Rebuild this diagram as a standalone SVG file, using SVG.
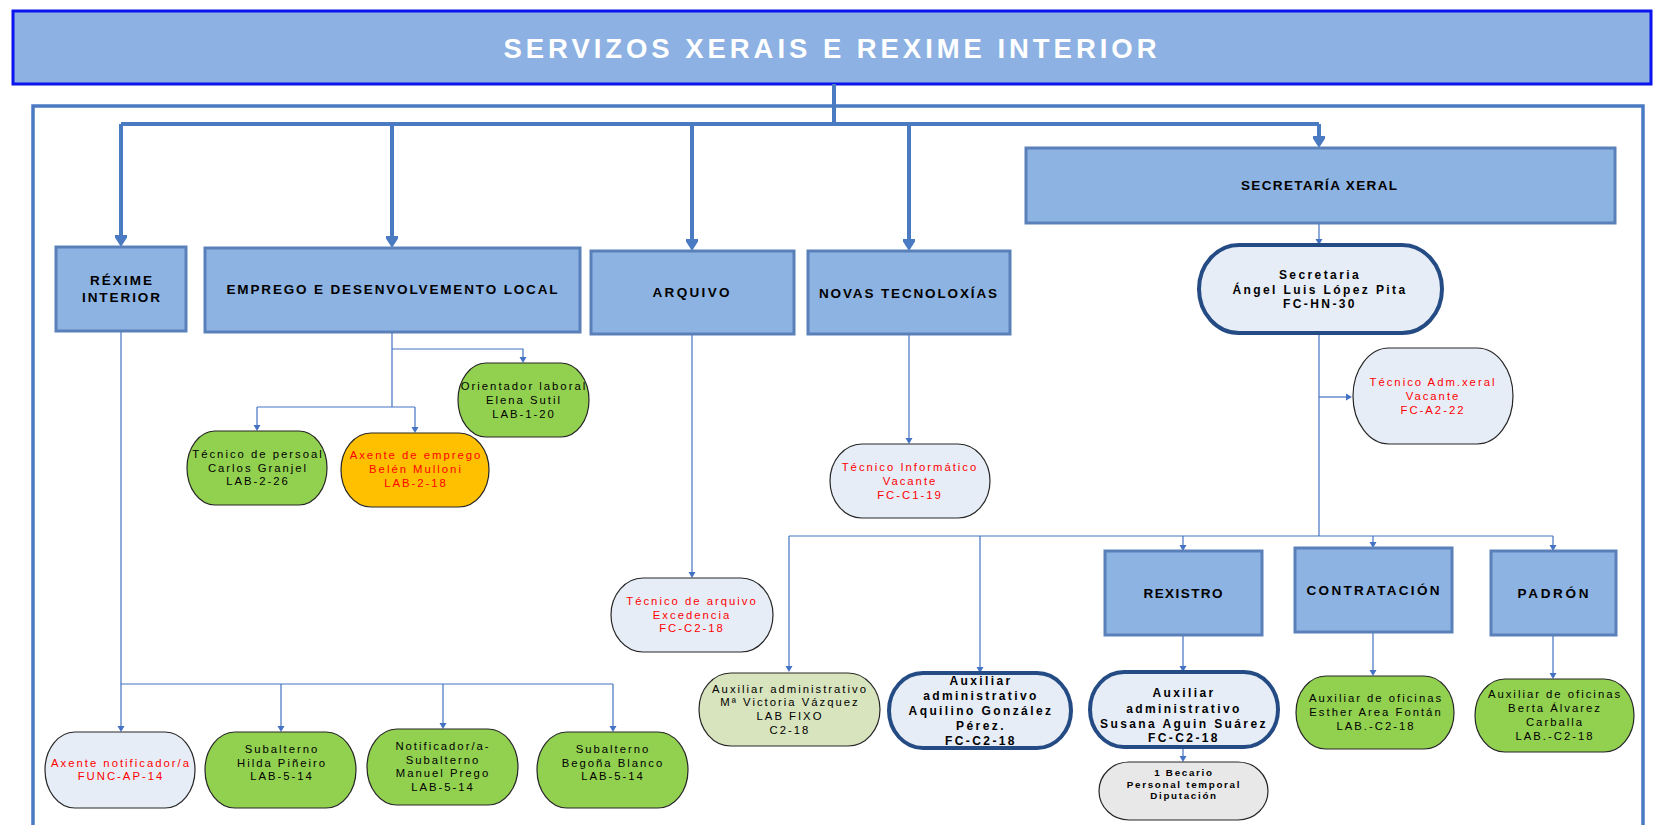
<svg xmlns="http://www.w3.org/2000/svg" width="1653" height="825" viewBox="0 0 1653 825">
<defs>
<marker id="big" markerUnits="userSpaceOnUse" markerWidth="15" markerHeight="12" refX="0" refY="6" orient="auto" viewBox="0 0 15 12"><path d="M0,-1.5 L12,6 L0,13.5 Z" fill="#4A7AC2"/></marker>
<marker id="sm" markerUnits="userSpaceOnUse" markerWidth="7" markerHeight="8" refX="0" refY="4" orient="auto" viewBox="0 0 7 8"><path d="M0,0.5 L6,4 L0,7.5 Z" fill="#4472C4"/></marker>
<style>
.box{fill:#8DB3E2;stroke:#5A80BA;stroke-width:3}
.thick{fill:none;stroke:#4A7AC2;stroke-width:4}
.thin{fill:none;stroke:#4472C4;stroke-width:1.2}
.green{fill:#92D050;stroke:#262626;stroke-width:1.2}
.light{fill:#E6EDF7;stroke:#262626;stroke-width:1.2}
.olive{fill:#D7E4BD;stroke:#262626;stroke-width:1.2}
.orange{fill:#FFC000;stroke:#262626;stroke-width:1.2}
.gray{fill:#E8E8E8;stroke:#262626;stroke-width:1.2}
.strong{fill:#E6EDF7;stroke:#244B84;stroke-width:4}
.bl{font-family:"Liberation Sans",Arial,sans-serif;font-weight:bold;font-size:13.5px;fill:#000;text-anchor:middle}
.t{font-family:"Liberation Sans",Arial,sans-serif;font-size:11.3px;letter-spacing:2px;fill:#000;text-anchor:middle}
.r{fill:#FF0000}
.tb{font-family:"Liberation Sans",Arial,sans-serif;font-weight:bold;font-size:12px;letter-spacing:2.4px;fill:#000;text-anchor:middle}
.ts{font-family:"Liberation Sans",Arial,sans-serif;font-weight:bold;font-size:9.8px;letter-spacing:1.7px;fill:#000;text-anchor:middle}
</style>
</defs>
<rect width="1653" height="825" fill="#FFFFFF"/>
<g id="title">
<rect x="13" y="11" width="1638" height="73" fill="#8DB1E2" stroke="#0A14EE" stroke-width="3"/>
<text x="830" y="58" font-family="'Liberation Sans',Arial,sans-serif" font-weight="bold" font-size="27.5" fill="#FFFFFF" text-anchor="middle" textLength="653" lengthAdjust="spacing">SERVIZOS XERAIS E REXIME INTERIOR</text>
</g>
<g id="frame">
<path d="M33,825 V106 H1643 V825" fill="none" stroke="#4A7AC2" stroke-width="3.5"/>
</g>
<g id="connectors">
<path class="thick" d="M834,84 V124"/>
<path class="thick" d="M121,124 H1319"/>
<path class="thick" d="M121,124 V235" marker-end="url(#big)"/>
<path class="thick" d="M392,124 V236" marker-end="url(#big)"/>
<path class="thick" d="M692,124 V239" marker-end="url(#big)"/>
<path class="thick" d="M909,124 V239" marker-end="url(#big)"/>
<path class="thick" d="M1319,124 V136" marker-end="url(#big)"/>
<path class="thin" d="M1319,223 V239" marker-end="url(#sm)"/>
<path class="thin" d="M1319,333 V536"/>
<path class="thin" d="M1319,397 H1346" marker-end="url(#sm)"/>
<path class="thin" d="M789,536 H1553"/>
<path class="thin" d="M789,536 V666" marker-end="url(#sm)"/>
<path class="thin" d="M980,536 V667" marker-end="url(#sm)"/>
<path class="thin" d="M1183,536 V545" marker-end="url(#sm)"/>
<path class="thin" d="M1373,536 V542" marker-end="url(#sm)"/>
<path class="thin" d="M1553,536 V545" marker-end="url(#sm)"/>
<path class="thin" d="M1183,635 V666" marker-end="url(#sm)"/>
<path class="thin" d="M1373,632 V670" marker-end="url(#sm)"/>
<path class="thin" d="M1553,635 V673" marker-end="url(#sm)"/>
<path class="thin" d="M1183,747 V756" marker-end="url(#sm)"/>
<path class="thin" d="M909,334 V438" marker-end="url(#sm)"/>
<path class="thin" d="M692,334 V572" marker-end="url(#sm)"/>
<path class="thin" d="M392,332 V407"/>
<path class="thin" d="M392,349 H523 V357" marker-end="url(#sm)"/>
<path class="thin" d="M257,407 H415"/>
<path class="thin" d="M257,407 V425" marker-end="url(#sm)"/>
<path class="thin" d="M415,407 V427" marker-end="url(#sm)"/>
<path class="thin" d="M121,331 V684 H613"/>
<path class="thin" d="M121,684 V726" marker-end="url(#sm)"/>
<path class="thin" d="M281,684 V726" marker-end="url(#sm)"/>
<path class="thin" d="M443,684 V723" marker-end="url(#sm)"/>
<path class="thin" d="M613,684 V726" marker-end="url(#sm)"/>
</g>
<g id="n-reximeint"><rect class="box" x="56" y="247" width="130" height="84"/><text class="bl" x="121" y="285" textLength="62" lengthAdjust="spacing">RÉXIME</text><text class="bl" x="121" y="302" textLength="78" lengthAdjust="spacing">INTERIOR</text></g>
<g id="n-emprego"><rect class="box" x="205" y="248" width="375" height="84"/><text class="bl" x="392" y="294" textLength="331" lengthAdjust="spacing">EMPREGO E DESENVOLVEMENTO LOCAL</text></g>
<g id="n-arquivo"><rect class="box" x="591" y="251" width="203" height="83"/><text class="bl" x="691" y="297" textLength="77" lengthAdjust="spacing">ARQUIVO</text></g>
<g id="n-novas"><rect class="box" x="808" y="251" width="202" height="83"/><text class="bl" x="908" y="298" textLength="178" lengthAdjust="spacing">NOVAS TECNOLOXÍAS</text></g>
<g id="n-secxeral"><rect class="box" x="1026" y="148" width="589" height="75"/><text class="bl" x="1319" y="190" textLength="156" lengthAdjust="spacing">SECRETARÍA XERAL</text></g>
<g id="n-secretaria"><rect class="strong" x="1199" y="245" width="243" height="88" rx="40" ry="44"/><text class="tb" x="1320" y="279">Secretaria</text><text class="tb" x="1320" y="294">Ángel Luis López Pita</text><text class="tb" x="1320" y="308">FC-HN-30</text></g>
<g id="n-tadm"><rect class="light" x="1353" y="348" width="160" height="96" rx="36" ry="48"/><text class="t r" x="1433" y="386">Técnico Adm.xeral</text><text class="t r" x="1433" y="400">Vacante</text><text class="t r" x="1433" y="414">FC-A2-22</text></g>
<g id="n-tinf"><rect class="light" x="830" y="444" width="160" height="74" rx="32" ry="37"/><text class="t r" x="910" y="471">Técnico Informático</text><text class="t r" x="910" y="485">Vacante</text><text class="t r" x="910" y="499">FC-C1-19</text></g>
<g id="n-tarq"><rect class="light" x="611" y="578" width="162" height="74" rx="32" ry="37"/><text class="t r" x="692" y="605">Técnico de arquivo</text><text class="t r" x="692" y="619">Excedencia</text><text class="t r" x="692" y="632">FC-C2-18</text></g>
<g id="n-orient"><rect class="green" x="458" y="363" width="131" height="74" rx="28" ry="37"/><text class="t" x="524" y="390">Orientador laboral</text><text class="t" x="524" y="404">Elena Sutil</text><text class="t" x="524" y="418">LAB-1-20</text></g>
<g id="n-tpers"><rect class="green" x="187" y="431" width="140" height="74" rx="28" ry="37"/><text class="t" x="258" y="458">Técnico de persoal</text><text class="t" x="258" y="472">Carlos Granjel</text><text class="t" x="258" y="485">LAB-2-26</text></g>
<g id="n-axemp"><rect class="orange" x="341" y="433" width="148" height="74" rx="30" ry="37"/><text class="t r" x="416" y="459">Axente de emprego</text><text class="t r" x="416" y="473">Belén Mulloni</text><text class="t r" x="416" y="487">LAB-2-18</text></g>
<g id="n-axnot"><rect class="light" x="45" y="732" width="150" height="76" rx="30" ry="38"/><text class="t r" x="121" y="767">Axente notificador/a</text><text class="t r" x="121" y="780">FUNC-AP-14</text></g>
<g id="n-hilda"><rect class="green" x="205" y="732" width="151" height="76" rx="30" ry="38"/><text class="t" x="282" y="753">Subalterno</text><text class="t" x="282" y="767">Hilda Piñeiro</text><text class="t" x="282" y="780">LAB-5-14</text></g>
<g id="n-manuel"><rect class="green" x="367" y="729" width="151" height="76" rx="30" ry="38"/><text class="t" x="443" y="750">Notificador/a-</text><text class="t" x="443" y="764">Subalterno</text><text class="t" x="443" y="777">Manuel Prego</text><text class="t" x="443" y="791">LAB-5-14</text></g>
<g id="n-begona"><rect class="green" x="537" y="732" width="151" height="76" rx="30" ry="38"/><text class="t" x="613" y="753">Subalterno</text><text class="t" x="613" y="767">Begoña Blanco</text><text class="t" x="613" y="780">LAB-5-14</text></g>
<g id="n-victoria"><rect class="olive" x="699" y="673" width="181" height="73" rx="32" ry="36.5"/><text class="t" x="790" y="693">Auxiliar administrativo</text><text class="t" x="790" y="706">Mª Victoria Vázquez</text><text class="t" x="790" y="720">LAB FIXO</text><text class="t" x="790" y="734">C2-18</text></g>
<g id="n-aquilino"><rect class="strong" x="889" y="673" width="182" height="75" rx="34" ry="37.5"/><text class="tb" x="981" y="685">Auxiliar</text><text class="tb" x="981" y="700">administrativo</text><text class="tb" x="981" y="715">Aquilino González</text><text class="tb" x="981" y="730">Pérez.</text><text class="tb" x="981" y="745">FC-C2-18</text></g>
<g id="n-susana"><rect class="strong" x="1090" y="672" width="188" height="75" rx="34" ry="37.5"/><text class="tb" x="1184" y="697">Auxiliar</text><text class="tb" x="1184" y="713">administrativo</text><text class="tb" x="1184" y="728">Susana Aguin Suárez</text><text class="tb" x="1184" y="742">FC-C2-18</text></g>
<g id="n-becario"><rect class="gray" x="1099" y="762" width="169" height="58" rx="30" ry="29"/><text class="ts" x="1184" y="776">1 Becario</text><text class="ts" x="1184" y="788">Personal temporal</text><text class="ts" x="1184" y="799">Diputación</text></g>
<g id="n-rexistro"><rect class="box" x="1105" y="551" width="157" height="84"/><text class="bl" x="1183" y="598" textLength="79" lengthAdjust="spacing">REXISTRO</text></g>
<g id="n-contrat"><rect class="box" x="1295" y="548" width="157" height="84"/><text class="bl" x="1373" y="595" textLength="133" lengthAdjust="spacing">CONTRATACIÓN</text></g>
<g id="n-padron"><rect class="box" x="1491" y="551" width="125" height="84"/><text class="bl" x="1553" y="598" textLength="71" lengthAdjust="spacing">PADRÓN</text></g>
<g id="n-esther"><rect class="green" x="1296" y="676" width="158" height="73" rx="30" ry="36.5"/><text class="t" x="1376" y="702">Auxiliar de oficinas</text><text class="t" x="1376" y="716">Esther  Area Fontán</text><text class="t" x="1376" y="730">LAB.-C2-18</text></g>
<g id="n-berta"><rect class="green" x="1475" y="679" width="159" height="73" rx="30" ry="36.5"/><text class="t" x="1555" y="698">Auxiliar de oficinas</text><text class="t" x="1555" y="712">Berta Álvarez</text><text class="t" x="1555" y="726">Carballa</text><text class="t" x="1555" y="740">LAB.-C2-18</text></g>
</svg>
